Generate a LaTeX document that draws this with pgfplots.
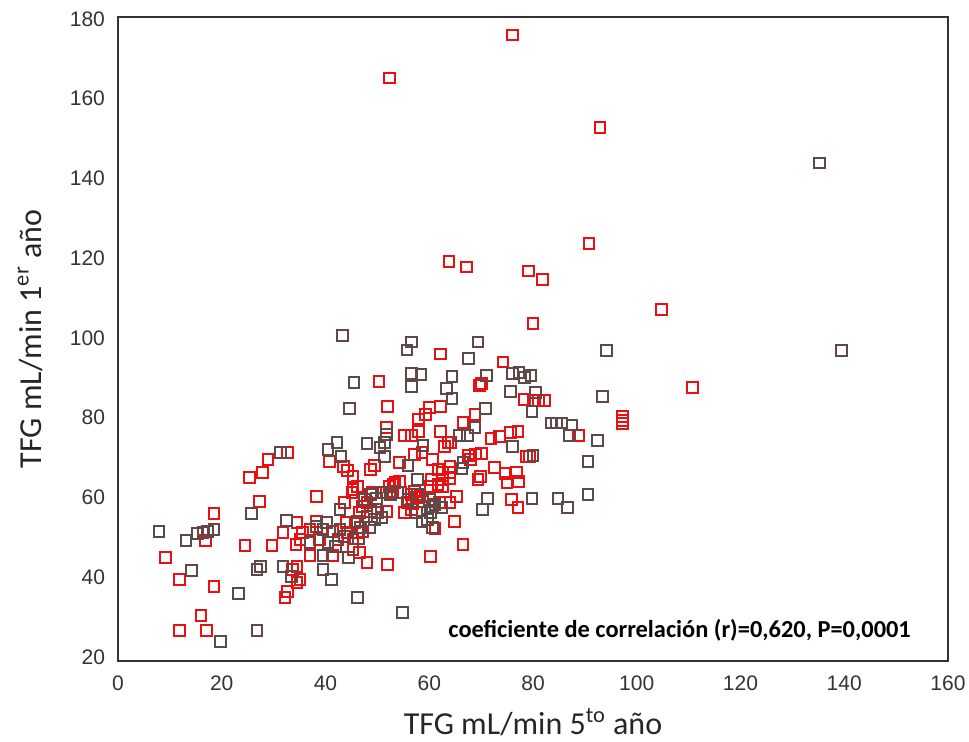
\documentclass[border=0pt]{standalone}
\usepackage{pgfplots}
\pgfplotsset{compat=1.18}
\usepackage{fontspec}
\setmainfont{Liberation Sans}
\newfontfamily\calfont{Carlito}
\definecolor{mkred}{RGB}{232,16,16}
\definecolor{mkgray}{RGB}{95,72,72}
\begin{document}
\begin{tikzpicture}
\begin{axis}[name=ax,
  scale only axis, width=415pt, height=322pt,
  xmin=0, xmax=160, ymin=19, ymax=180.5,
  xtick={0,20,...,160}, ytick={20,40,...,180},
  major tick length=0pt,
  axis line style={line width=1.1pt, black!80},
  /pgf/number format/assume math mode=true,
  tick label style={font=\fontsize{10.5}{12}\selectfont, black!80},
  xticklabel style={yshift=-4pt},
  yticklabel style={xshift=-3pt},
  xlabel={\calfont TFG mL/min 5\textsuperscript{to} año},
  ylabel={\calfont TFG mL/min 1\textsuperscript{er} año},
  xlabel style={at={(axis description cs:0.5,-0.0947)}, anchor=center, font=\fontsize{16}{19}\selectfont, black!85},
  ylabel style={at={(axis description cs:-0.106,0.5)}, anchor=center, font=\fontsize{16}{19}\selectfont, black!85},
  clip=false,
]
\addplot[only marks, mark=square, mark size=2.7pt, mkred, line width=1pt] coordinates {
(76.1,176.0) (52.4,165.2) (92.9,152.7) (90.8,123.6) (63.8,119.1) (67.2,117.8)
(79.2,116.8) (81.9,114.6) (104.8,107.1) (80.0,103.6) (62.2,96.0) (74.2,94.0)
(50.3,89.0) (70.1,88.5) (69.7,88.0) (110.8,87.5) (78.4,84.5) (80.0,84.3)
(81.1,84.3) (82.3,84.3) (52.0,82.8) (62.2,82.8) (60.1,82.5) (58.0,79.7)
(59.2,80.8) (68.8,80.8) (66.5,78.8) (51.8,77.5) (55.3,75.5) (56.6,75.5)
(58.0,76.5) (62.2,76.5) (71.9,74.7) (73.6,75.2) (75.7,76.3) (77.1,76.5)
(97.3,80.3) (97.3,79.3) (97.3,78.5) (88.8,75.5) (58.6,71.2) (63.6,73.7)
(64.2,73.7) (63.0,72.7) (78.8,70.2) (79.4,70.2) (28.9,69.5) (27.9,66.2)
(25.4,65.0) (32.6,71.3) (40.7,69.0) (54.3,68.7) (57.2,70.8) (60.7,69.5)
(67.6,70.5) (68.9,70.9) (70.0,71.0) (67.9,69.5) (72.6,67.5) (74.6,66.0)
(76.8,66.2) (75.0,63.7) (77.2,64.0) (43.4,67.7) (44.3,66.7) (45.3,65.2)
(49.5,68.0) (48.6,67.0) (64.0,67.7) (62.6,66.2) (64.0,66.2) (62.6,64.5)
(64.0,64.7) (61.7,67.0) (69.9,65.2) (60.5,64.5) (53.4,63.7) (54.3,64.0)
(52.4,62.7) (51.8,61.2) (53.0,61.5) (45.3,62.0) (46.1,62.7) (45.1,61.2)
(49.1,61.2) (48.0,58.7) (56.6,60.7) (57.6,60.0) (58.2,60.2) (55.7,58.7)
(56.8,58.5) (56.6,57.0) (55.3,56.3) (58.8,58.9) (62.0,58.7) (64.0,58.7)
(65.3,60.2) (77.1,57.4) (75.9,59.4) (38.3,60.2) (43.7,58.7) (47.2,57.7)
(46.6,56.2) (48.6,56.4) (51.8,56.4) (53.0,63.2) (54.5,61.2) (57.2,61.5)
(60.3,62.7) (61.7,63.2) (62.6,62.7) (69.4,64.5) (61.1,52.2) (64.9,53.9)
(66.5,48.2) (60.3,45.2) (34.5,53.7) (31.8,51.2) (35.6,51.2) (37.0,51.9)
(38.3,53.9) (35.1,49.4) (38.9,49.4) (41.4,51.4) (44.3,51.2) (46.1,51.2)
(47.2,51.5) (42.4,49.4) (45.3,49.6) (44.1,53.7) (45.7,53.7) (24.5,47.9)
(29.7,47.9) (34.3,48.2) (37.0,45.4) (41.4,45.4) (45.3,46.9) (46.6,46.2)
(48.0,43.7) (52.0,43.2) (33.7,41.9) (34.5,42.7) (35.1,39.4) (34.5,38.6)
(32.2,34.9) (32.6,36.4) (27.2,58.9) (18.5,56.0) (16.8,49.2) (9.2,44.9)
(11.8,39.4) (18.5,37.6) (16.0,30.4) (11.8,26.6) (17.0,26.6)
};
\addplot[only marks, mark=square, mark size=2.7pt, mkgray, line width=1pt] coordinates {
(135.3,143.9) (43.2,100.6) (56.6,99.0) (55.7,97.0) (69.4,99.0) (94.2,96.8)
(139.5,96.8) (67.6,94.8) (56.6,91.0) (58.4,90.8) (56.6,87.8) (45.5,88.8)
(64.4,90.3) (71.1,90.5) (76.1,91.0) (77.3,91.3) (78.4,90.0) (79.6,90.5)
(75.7,86.5) (63.4,87.3) (64.4,84.8) (80.5,86.3) (93.4,85.3) (79.8,81.5)
(44.7,82.3) (70.8,82.4) (68.8,77.5) (51.8,75.8) (65.9,75.5) (67.4,75.5)
(83.6,78.7) (84.6,78.7) (85.5,78.7) (87.5,78.2) (87.1,75.5) (92.5,74.2)
(51.4,73.7) (50.5,72.6) (48.0,73.5) (42.2,73.7) (40.5,72.0) (58.8,73.0)
(76.1,72.7) (80.0,70.5) (90.6,69.0) (31.4,71.2) (43.0,70.2) (51.4,70.2)
(55.9,68.0) (66.5,68.7) (66.3,67.2) (57.8,64.5) (50.9,61.2) (53.9,61.2)
(49.9,59.7) (60.1,59.4) (60.7,57.7) (62.4,57.4) (71.3,59.7) (70.3,57.0)
(79.8,59.7) (84.8,59.7) (86.7,57.4) (90.6,60.7) (42.8,57.0) (48.0,55.2)
(46.2,53.9) (50.1,56.2) (50.9,55.0) (57.6,56.2) (58.6,53.9) (59.7,54.4)
(47.5,59.4) (48.6,60.7) (52.6,60.7) (55.9,59.4) (49.5,54.4) (60.3,56.2)
(61.1,58.2) (57.8,60.7) (60.7,52.4) (32.5,54.2) (40.2,53.8) (38.2,52.7)
(39.5,51.9) (42.8,51.9) (46.8,52.4) (48.5,52.5) (37.0,48.7) (43.7,50.2)
(46.4,49.7) (40.5,48.7) (41.9,47.7) (39.5,45.4) (44.5,45.0) (26.8,41.9)
(27.4,42.7) (31.8,42.7) (33.5,40.2) (39.5,41.9) (41.2,39.4) (46.2,34.9)
(54.9,31.1) (26.8,26.6) (23.3,35.9) (25.8,56.0) (7.9,51.4) (13.1,49.2)
(15.4,50.9) (16.4,51.2) (17.3,51.4) (18.5,51.9) (14.1,41.7) (19.8,23.9)
};
\node[anchor=base east, font=\calfont\bfseries\fontsize{12.2}{14}\selectfont] at (axis cs:154.2,25.0) {coeficiente de correlación (r)=0,620, P=0,0001};
\end{axis}
\pgfresetboundingbox
\useasboundingbox ([xshift=-59pt,yshift=-40.5pt]ax.south west) rectangle ([xshift=10.5pt,yshift=8.5pt]ax.north east);
\end{tikzpicture}
\end{document}
